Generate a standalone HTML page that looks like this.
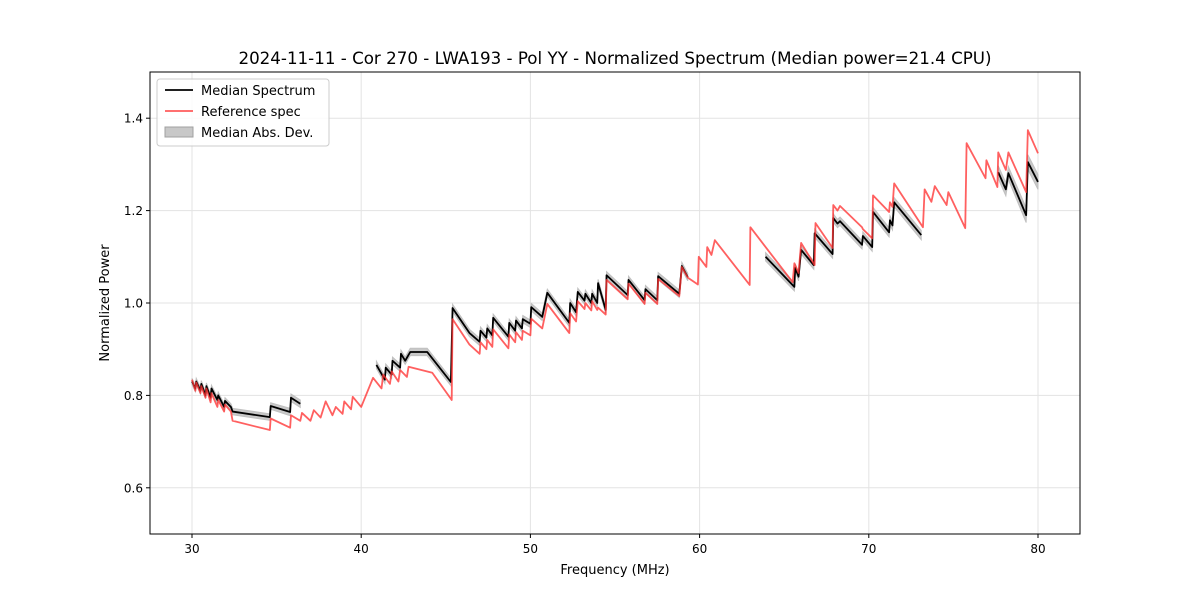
<!DOCTYPE html>
<html><head><meta charset="utf-8"><style>
html,body{margin:0;padding:0;background:#fff;}
svg{display:block;font-family:"DejaVu Sans","Liberation Sans",sans-serif;}
</style></head><body>
<svg id="chart" width="1200" height="600" viewBox="0 0 1200 600" xmlns="http://www.w3.org/2000/svg">
<rect width="1200" height="600" fill="#fff"/>
<g id="grid"></g>
<g id="band"></g>
<g id="lines"></g>
<rect x="150" y="72" width="930" height="462" fill="none" stroke="#000" stroke-width="1"/>
<g id="ticks"></g>
<text x="615" y="64" text-anchor="middle" font-size="16.7">2024-11-11 - Cor 270 - LWA193 - Pol YY - Normalized Spectrum (Median power=21.4 CPU)</text>
<text x="615" y="574" text-anchor="middle" font-size="13">Frequency (MHz)</text>
<text transform="translate(109,303) rotate(-90)" text-anchor="middle" font-size="13">Normalized Power</text>
<g>
<rect x="157" y="79" width="172" height="67" rx="3" fill="#fff" fill-opacity="0.85" stroke="#ccc"/>
<line x1="165" y1="90" x2="193" y2="90" stroke="#000" stroke-width="1.8"/>
<text x="201" y="95" font-size="13">Median Spectrum</text>
<line x1="165" y1="111" x2="193" y2="111" stroke="#ff5c5c" stroke-width="1.8"/>
<text x="201" y="116" font-size="13">Reference spec</text>
<rect x="165" y="127" width="28" height="10" fill="#c8c8c8" stroke="#a0a0a0"/>
<text x="201" y="137" font-size="13">Median Abs. Dev.</text>
</g>
</svg>
<script>
const xTicks = [30,40,50,60,70,80];
const yTicks = [0.6,0.8,1.0,1.2,1.4];
const yTickLabels = ["0.6","0.8","1.0","1.2","1.4"];
const refFreq = [30,30.2,30.25,30.5,30.55,30.8,30.85,31.1,31.15,31.5,31.55,31.9,31.95,32.3,32.4,34.6,34.65,35.8,35.85,36.4,36.5,37,37.2,37.6,37.9,38.3,38.5,38.9,39.0,39.4,39.5,40.0,40.7,41.2,41.3,41.7,41.8,42.2,42.3,42.7,42.8,43,44.2,45.35,45.4,46.4,47.0,47.05,47.4,47.45,47.75,47.8,48.7,48.75,49.1,49.15,49.5,49.55,50.0,50.05,50.7,51.0,52.3,52.35,52.7,52.8,53.2,53.25,53.6,53.65,53.95,54.0,54.45,54.5,55.75,55.8,56.75,56.8,57.5,57.55,58.8,58.95,59.3,59.9,59.95,60.4,60.45,60.7,60.9,62.96,63.0,65.5,65.6,65.85,66.0,66.8,66.85,67.86,67.9,68.15,68.3,69.6,69.65,70.2,70.25,71.2,71.25,71.4,71.5,73.2,73.3,73.7,73.9,74.6,74.7,75.7,75.78,76.9,76.95,77.6,77.65,78.1,78.25,79.3,79.4,80];
const refValues = [0.834,0.81,0.828,0.805,0.82,0.795,0.815,0.785,0.805,0.775,0.79,0.765,0.78,0.765,0.745,0.725,0.75,0.73,0.757,0.745,0.762,0.745,0.768,0.752,0.787,0.757,0.775,0.76,0.787,0.77,0.797,0.775,0.838,0.815,0.845,0.825,0.852,0.83,0.855,0.84,0.862,0.86,0.849,0.79,0.965,0.91,0.89,0.915,0.9,0.92,0.905,0.943,0.902,0.932,0.915,0.937,0.92,0.94,0.93,0.966,0.945,0.998,0.935,0.978,0.96,1.004,0.987,1.0,0.984,1.004,0.985,0.99,0.975,1.05,1.008,1.042,0.998,1.022,0.998,1.052,1.015,1.078,1.055,1.04,1.1,1.078,1.121,1.104,1.136,1.039,1.164,1.045,1.086,1.065,1.13,1.082,1.173,1.119,1.212,1.2,1.21,1.164,1.16,1.14,1.233,1.197,1.218,1.208,1.259,1.164,1.246,1.219,1.253,1.212,1.24,1.162,1.346,1.27,1.309,1.251,1.326,1.288,1.326,1.24,1.374,1.324];
const medFreq = [30,30.2,30.25,30.5,30.55,30.8,30.85,31.1,31.15,31.5,31.55,31.9,31.95,32.3,32.4,34.6,34.65,35.8,35.85,36.4,null,40.9,41.4,41.45,41.8,41.85,42.3,42.35,42.6,42.9,43.9,45.3,45.4,46.4,47.0,47.05,47.4,47.45,47.75,47.8,48.7,48.75,49.1,49.15,49.5,49.55,50.0,50.05,50.7,51.0,52.3,52.35,52.7,52.8,53.2,53.25,53.6,53.65,53.95,54.0,54.45,54.5,55.75,55.8,56.75,56.8,57.5,57.55,58.8,58.95,59.3,null,63.9,65.6,65.65,65.85,66.0,66.75,66.8,67.86,67.9,68.15,68.3,69.6,69.65,70.2,70.25,71.2,71.25,71.4,71.5,73.1,null,77.65,78.1,78.25,79.3,79.4,80];
const medValues = [0.83,0.815,0.83,0.81,0.825,0.8,0.82,0.795,0.815,0.79,0.8,0.775,0.788,0.775,0.765,0.753,0.777,0.764,0.795,0.782,null,0.866,0.834,0.86,0.845,0.875,0.86,0.89,0.875,0.894,0.894,0.829,0.989,0.935,0.916,0.94,0.925,0.945,0.93,0.968,0.927,0.957,0.94,0.962,0.945,0.965,0.955,0.991,0.97,1.022,0.957,1.0,0.98,1.024,1.005,1.02,1.0,1.02,1.0,1.043,0.985,1.06,1.017,1.05,1.006,1.03,1.006,1.058,1.02,1.08,1.056,null,1.1,1.035,1.076,1.057,1.115,1.082,1.151,1.106,1.184,1.172,1.177,1.126,1.145,1.121,1.197,1.153,1.179,1.168,1.218,1.147,null,1.283,1.246,1.281,1.19,1.305,1.262];
const madValues = [0.007,0.007,0.007,0.007,0.007,0.007,0.007,0.007,0.007,0.007,0.007,0.007,0.007,0.007,0.007,0.007,0.007,0.008,0.008,0.008,null,0.008,0.008,0.008,0.008,0.008,0.008,0.008,0.008,0.008,0.008,0.008,0.008,0.008,0.008,0.008,0.008,0.008,0.008,0.008,0.008,0.008,0.008,0.008,0.008,0.008,0.008,0.008,0.008,0.008,0.008,0.008,0.008,0.008,0.008,0.008,0.008,0.008,0.008,0.008,0.008,0.008,0.008,0.008,0.008,0.008,0.008,0.008,0.008,0.008,0.008,null,0.009,0.009,0.009,0.009,0.009,0.009,0.009,0.009,0.009,0.009,0.009,0.009,0.009,0.009,0.01,0.01,0.01,0.01,0.01,0.01,null,0.014,0.014,0.014,0.016,0.016,0.016];

const NS='http://www.w3.org/2000/svg';
const X0=150,X1=1080,Y0=72,Y1=534;
function xs(f){return 192+(f-30)*(1038-192)/50;}
function ys(v){return 534-(v-0.5)*462/1.0;}
function mk(tag,attrs,parent){const e=document.createElementNS(NS,tag);for(const k in attrs)e.setAttribute(k,attrs[k]);parent.appendChild(e);return e;}
const grid=document.getElementById('grid'),ticks=document.getElementById('ticks');
xTicks.forEach(t=>{
  const x=xs(t);
  const g=mk('line',{x1:x,x2:x,y1:Y0,y2:Y1,stroke:'#e3e3e3','stroke-width':1},grid);
  
  
  const tk=mk('line',{x1:x,x2:x,y1:Y1,y2:Y1+4,stroke:'#000'},ticks);
  
  
  const tx=mk('text',{x:x,y:Y1+19,'text-anchor':'middle','font-size':12},ticks);
  tx.textContent=String(t);
  
  
});
yTicks.forEach((t,i)=>{
  const y=ys(t);
  const g=mk('line',{x1:X0,x2:X1,y1:y,y2:y,stroke:'#e3e3e3','stroke-width':1},grid);
  
  
  const tk=mk('line',{x1:X0-4,x2:X0,y1:y,y2:y,stroke:'#000'},ticks);
  
  
  const tx=mk('text',{x:X0-7,y:y+4.5,'text-anchor':'end','font-size':12},ticks);
  tx.textContent=yTickLabels[i];
  
  
});
const band=document.getElementById('band');
let seg=[];
function flushBand(){
  if(seg.length>1){
    const top=seg.map(i=>xs(medFreq[i])+','+ys(medValues[i]+madValues[i]));
    const bot=seg.slice().reverse().map(i=>xs(medFreq[i])+','+ys(medValues[i]-madValues[i]));
    const p=mk('polygon',{points:top.concat(bot).join(' '),fill:'#c8c8c8',stroke:'#c0c0c0','stroke-width':1},band);
    
    
  }
  seg=[];
}
for(let i=0;i<medFreq.length;i++){ if(medFreq[i]===null){flushBand();} else seg.push(i);} flushBand();
const lines=document.getElementById('lines');
let pts=[];
function flushLine(){
  if(pts.length>1){
    const l=mk('polyline',{points:pts.join(' '),fill:'none',stroke:'#000','stroke-width':1.8,'stroke-linejoin':'round'},lines);
    
    
  }
  pts=[];
}
for(let i=0;i<medFreq.length;i++){ if(medFreq[i]===null){flushLine();} else pts.push(xs(medFreq[i])+','+ys(medValues[i]));} flushLine();
const rl=mk('polyline',{points:refFreq.map((f,i)=>xs(f)+','+ys(refValues[i])).join(' '),fill:'none',stroke:'#ff3333','stroke-opacity':0.78,'stroke-width':1.8,'stroke-linejoin':'round'},lines);


</script>
</body></html>
